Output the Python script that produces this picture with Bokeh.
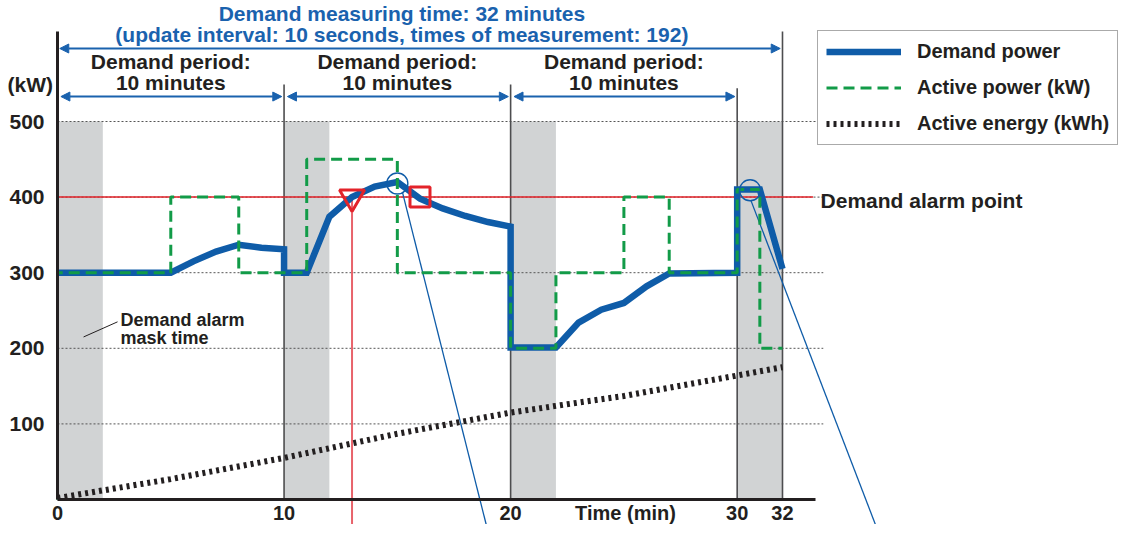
import numpy as np
from bokeh.plotting import figure
from bokeh.models import (ColumnDataSource, FixedTicker, Arrow, NormalHead,
                          Legend, LegendItem)
from bokeh.core.properties import value
from bokeh.embed import file_html
from bokeh.resources import INLINE

FONT = "Liberation Sans"
BLUE = "#0f5ca8"
TBLUE = "#1a62ae"
GREEN = "#129b48"
RED = "#e3232a"
PINK = "#e8636b"
DARK = "#231f20"
GRAY = "#d1d3d4"

# ---------------- data ----------------
demand_t = [0, 5, 6, 7, 8, 9, 10, 10, 11, 12, 13, 14, 15, 16, 17, 18, 19, 20,
            20, 22, 23, 24, 25, 26, 27, 30, 30, 31, 32]
demand_kw = [300, 300, 315, 328, 337, 333, 331, 300, 300, 374, 400, 414, 420,
             398, 385, 375, 367, 361, 201, 201, 234, 251, 260, 282, 299, 300,
             410, 410, 305]

active_t = [0, 0, 5, 5, 8, 8, 11, 11, 15, 15, 20, 20, 22, 22, 25, 25, 27, 27,
            30, 30, 31, 31, 32]
active_kw = [0, 300, 300, 400, 400, 300, 300, 450, 450, 300, 300, 200, 200,
             300, 300, 400, 400, 300, 300, 410, 410, 200, 200]

energy_t = [0, 5, 10, 15, 20, 25, 30, 32]
energy_kwh = [2, 27, 55, 87, 115, 137, 164, 175]

x_ticks = [0, 10, 20, 30, 32]
y_ticks = [100, 200, 300, 400, 500]

period_starts = [0, 10, 20]
period_ends = [10, 20, 30]
mask_starts = [0, 10, 20, 30]
mask_ends = [2, 12, 22, 32]
mask_top = 500
measure_start, measure_end = 0, 32
alarm_level = 400
alarm_on_t = 13
alarm_off_t = 16
peak_t = [15.0, 30.57]
peak_kw = [418, 409]

# ---------------- figure ----------------
W, H = 1127, 524
PX_X = 22.656   # px per minute
PX_Y = 0.756    # px per kW
X0, Y0 = 57, 499
x_range = (-X0 / PX_X, (W - X0) / PX_X)
y_range = (-(H - Y0) / PX_Y, Y0 / PX_Y)


def yd(px):
    """screen row (px from top) -> data y"""
    return (Y0 - px) / PX_Y


p = figure(width=W, height=H, x_range=x_range, y_range=y_range,
           output_backend="svg", toolbar_location=None, title=None,
           min_border=0, outline_line_color=None)
p.xgrid.visible = False
p.ygrid.visible = False
p.background_fill_color = "white"
p.border_fill_color = "white"

X_END = 33.45
Y_END = 619

for ax in (p.xaxis[0], p.yaxis[0]):
    ax.fixed_location = 0
    ax.axis_line_color = DARK
    ax.axis_line_width = 3
    ax.major_tick_line_color = None
    ax.minor_tick_line_color = None
    ax.major_label_text_font = FONT
    ax.major_label_text_font_style = "bold"
    ax.major_label_text_font_size = "21px"
    ax.major_label_text_color = DARK
p.xaxis[0].ticker = FixedTicker(ticks=x_ticks)
p.xaxis[0].bounds = (0, X_END)
p.xaxis[0].major_label_standoff = 0
p.xaxis[0].major_label_text_font_size = "20px"
p.yaxis[0].ticker = FixedTicker(ticks=y_ticks)
p.yaxis[0].bounds = (0, Y_END)
p.yaxis[0].major_label_standoff = 7

# mask boxes
p.quad(left=mask_starts, right=mask_ends, bottom=0, top=mask_top,
       fill_color=GRAY, line_color=None, level="underlay")

# dotted grid lines
p.segment(x0=0, x1=33.8, y0=y_ticks, y1=y_ticks, line_color="#555555",
          line_width=1, line_dash="2 2")

# period boundary verticals
vx = period_ends + [measure_end]
vtop = [549, 549, 544, Y_END]
p.segment(x0=vx, x1=vx, y0=0, y1=vtop, line_color="#4d4d4f", line_width=1.6)

# alarm level line
p.segment(x0=0, x1=33.35, y0=alarm_level, y1=alarm_level, line_color=RED,
          line_width=1.5)
# alarm moment vertical
p.segment(x0=alarm_on_t, x1=alarm_on_t, y0=alarm_level, y1=-45,
          line_color=PINK, line_width=2)

# leader lines from peak circles
p.segment(x0=[15.23, 30.6], y0=[406, 396], x1=[18.98, 36.19], y1=[-40, -40],
          line_color=BLUE, line_width=1.3)

# series
r_dem = p.line(demand_t, demand_kw, line_color=BLUE, line_width=6.5,
               line_join="miter")
r_act = p.line(active_t, active_kw, line_color=GREEN, line_width=3,
               line_dash="11 6")
r_en = p.line(energy_t, energy_kwh, line_color=DARK, line_width=6,
              line_dash="3 4")

# markers
p.scatter([alarm_on_t], [alarm_level], marker="inverted_triangle", size=25,
          fill_color=None, line_color=RED, line_width=3)
p.scatter([alarm_off_t], [alarm_level], marker="square", size=20,
          fill_color=None, line_color=RED, line_width=3)
p.scatter(peak_t, peak_kw, marker="circle", size=21, fill_color=None,
          line_color=BLUE, line_width=1.4)

# arrows
head = dict(size=9, fill_color=TBLUE, line_color=TBLUE)
arr_src = ColumnDataSource(dict(
    xs=[measure_start + 0.1] + [s + 0.15 for s in period_starts],
    xe=[measure_end - 0.1] + [e - 0.1 for e in period_ends],
    y=[yd(48), 533, 533, 533]))
p.add_layout(Arrow(start=NormalHead(**head), end=NormalHead(**head),
                   x_start="xs", y_start="y", x_end="xe", y_end="y",
                   source=arr_src, line_color=TBLUE, line_width=2))

# mask leader line
p.segment(x0=[1.15], y0=[215], x1=[2.65], y1=[235], line_color=DARK,
          line_width=1)

# texts
def txt(xs, ys, texts, size="21px", color=DARK, align="center",
        baseline="middle"):
    p.text(x=xs, y=ys, text=texts, text_font=value(FONT),
           text_font_style="bold", text_font_size=size, text_color=color,
           text_align=align, text_baseline=baseline)

mid = [(s + e) / 2 for s, e in zip(period_starts, period_ends)]
txt([15.2, 15.2], [yd(12.5), yd(34)],
    ["Demand measuring time: 32 minutes",
     "(update interval: 10 seconds, times of measurement: 192)"], color=TBLUE)
txt(mid, [579] * 3, ["Demand period:"] * 3)
txt(mid, [551] * 3, ["10 minutes"] * 3)
txt([-0.2], [549], ["(kW)"], align="right")
txt([25.07], [yd(501)], ["Time (min)"], size="20px", baseline="top")
txt([33.68], [396], ["Demand alarm point"], align="left")
txt([2.78, 2.78], [237, 213], ["Demand alarm", "mask time"], size="18px",
    align="left")

# legend
legend = Legend(items=[LegendItem(label="Demand power", renderers=[r_dem]),
                       LegendItem(label="Active power (kW)", renderers=[r_act]),
                       LegendItem(label="Active energy (kWh)", renderers=[r_en])],
                location=(817, H - 145), margin=0, padding=8, spacing=11,
                glyph_width=75, glyph_height=25, label_height=25,
                label_standoff=16, label_text_font=FONT,
                label_text_font_style="bold", label_text_font_size="20px",
                label_text_color=DARK, border_line_color="#555555",
                border_line_width=1.5, background_fill_alpha=1.0)
p.add_layout(legend)

open("out.html", "w").write(file_html(p, INLINE))
